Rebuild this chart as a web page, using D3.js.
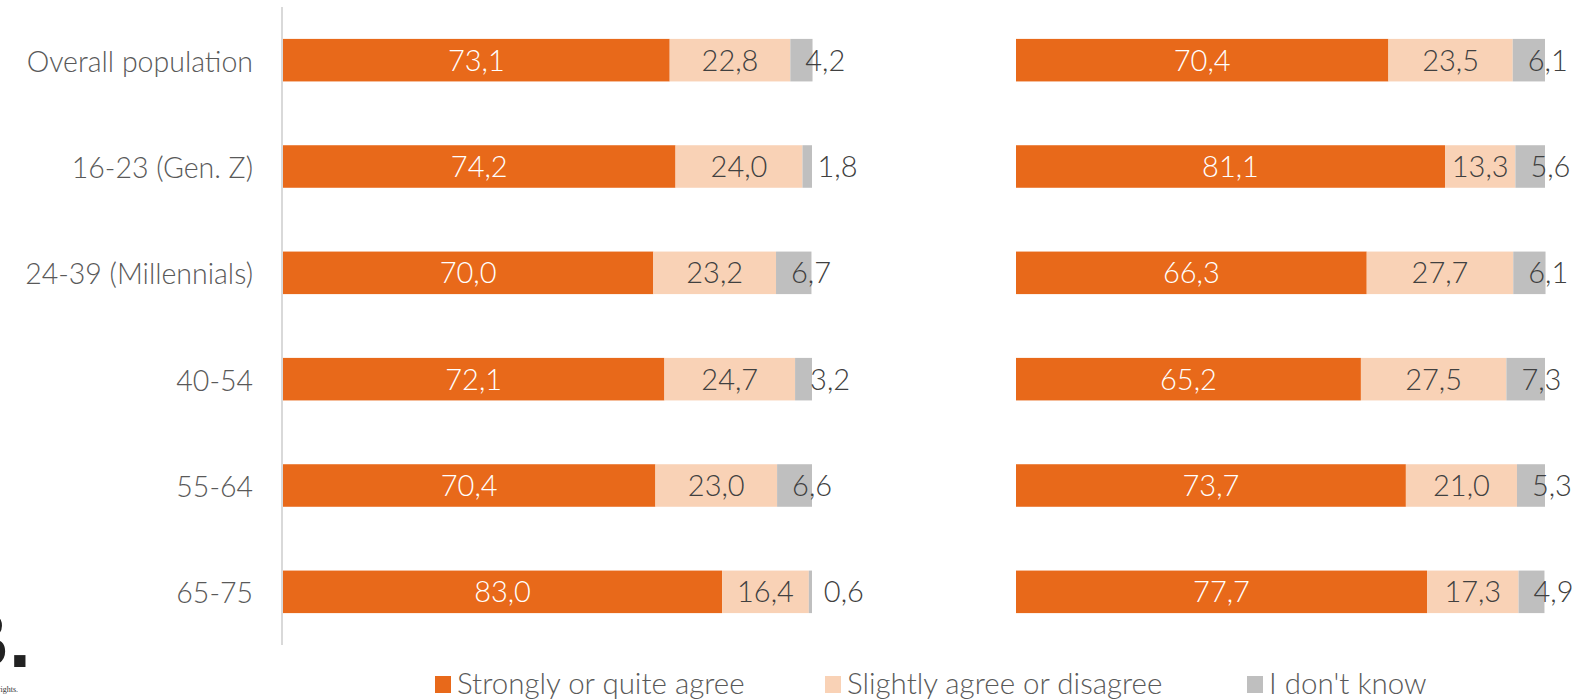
<!DOCTYPE html>
<html>
<head>
<meta charset="utf-8">
<script src="https://cdn.jsdelivr.net/npm/d3@7"></script>
<style>
  html, body { margin: 0; padding: 0; background: #fff; }
  svg { display: block; }
  text { font-family: Lato, "Open Sans", sans-serif; font-weight: 300; }
</style>
</head>
<body>
<svg id="chart" width="1580" height="700"></svg>
<script>
// ---- data ----
const categories = ["Overall population", "16-23 (Gen. Z)", "24-39 (Millennials)", "40-54", "55-64", "65-75"];
const seriesNames = ["Strongly or quite agree", "Slightly agree or disagree", "I don't know"];
const leftStrongly = [73.1, 74.2, 70.0, 72.1, 70.4, 83.0];
const leftSlightly = [22.8, 24.0, 23.2, 24.7, 23.0, 16.4];
const leftDontKnow = [4.2, 1.8, 6.7, 3.2, 6.6, 0.6];
const rightStrongly = [70.4, 81.1, 66.3, 65.2, 73.7, 77.7];
const rightSlightly = [23.5, 13.3, 27.7, 27.5, 21.0, 17.3];
const rightDontKnow = [6.1, 5.6, 6.1, 7.3, 5.3, 4.9];

const colors = ["#E8691A", "#F9D2B6", "#BFBFBF"];
const labelColors = ["#ffffff", "#404040", "#404040"];

const svg = d3.select("#chart");
const fmt = v => d3.format(".1f")(v).replace(".", ",");

const y = d3.scaleBand().domain(categories).range([7, 645]).paddingInner(0.6).paddingOuter(0.3);

function panel(x0, x1, strongly, slightly, dk) {
  const x = d3.scaleLinear().domain([0, 100]).range([x0, x1]);
  const rows = categories.map((c, i) => ({ cat: c, vals: [strongly[i], slightly[i], dk[i]] }));
  const g = svg.append("g");
  rows.forEach(r => {
    let acc = 0;
    r.vals.forEach((v, k) => {
      const s = acc, e = acc + v;
      acc = e;
      g.append("rect")
        .attr("x", x(s)).attr("y", y(r.cat))
        .attr("width", Math.max(0, x(e) - x(s))).attr("height", y.bandwidth())
        .attr("fill", colors[k]);
      const cy = y(r.cat) + y.bandwidth() / 2;
      const t = g.append("text")
        .attr("y", cy).attr("dy", "0.36em")
        .attr("font-size", 29)
        .attr("fill", labelColors[k])
        .text(fmt(v));
      if (k < 2) {
        t.attr("x", (x(s) + x(e)) / 2).attr("text-anchor", "middle");
      } else {
        t.attr("x", x(s) + 15).attr("text-anchor", "start");
      }
    });
  });
}

panel(283, 812, leftStrongly, leftSlightly, leftDontKnow);
panel(1016, 1545, rightStrongly, rightSlightly, rightDontKnow);

// category axis
const axis = d3.axisLeft(y).tickSize(0).tickPadding(29);
const ag = svg.append("g").attr("transform", "translate(282,0)").call(axis);
ag.select(".domain").remove();
ag.append("line").attr("x1", 0).attr("x2", 0).attr("y1", 7).attr("y2", 645)
  .attr("stroke", "#D9D9D9").attr("stroke-width", 2);
ag.selectAll(".tick text")
  .attr("font-family", "Lato, 'Open Sans', sans-serif")
  .attr("font-weight", 300)
  .attr("font-size", 28.5)
  .attr("dy", "0.4em")
  .attr("fill", "#595959");

// legend
const legendX = [435, 825, 1247];
const lg = svg.append("g");
seriesNames.forEach((n, i) => {
  lg.append("rect").attr("x", legendX[i]).attr("y", 676).attr("width", 16).attr("height", 17).attr("fill", colors[i]);
  lg.append("text").attr("x", legendX[i] + 22).attr("y", 694)
    .attr("font-size", 29.5).attr("fill", "#595959").text(n);
});

// logo fragment at bottom left
svg.append("text").attr("x", 31).attr("y", 667).attr("text-anchor", "end")
  .attr("font-size", 80).style("font-weight", 700).style("font-family", "'Liberation Sans', Arial, sans-serif")
  .attr("fill", "#222").text("B.");
svg.append("text").attr("x", 18).attr("y", 692).attr("text-anchor", "end")
  .attr("font-size", 8).style("font-family", "'Liberation Serif', serif").style("font-weight", 400)
  .attr("fill", "#333").text("All rights.");
</script>
</body>
</html>
